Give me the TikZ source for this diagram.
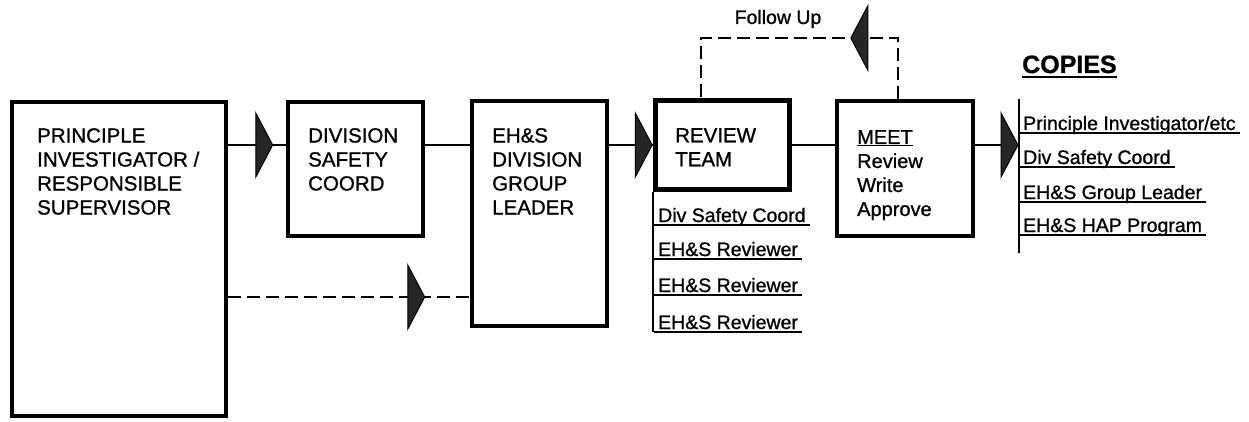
\documentclass[tikz,border=0pt]{standalone}
\usepackage{fontspec}
\setmainfont{Liberation Sans}[FakeBold=1]
\usetikzlibrary{arrows.meta, positioning, decorations.markings}

\tikzset{
  stage/.style={draw, line width=3.5pt, inner sep=0pt},
  stagetxt/.style={anchor=north west, inner sep=0pt, align=left,
                   font=\fontsize{20.5}{24}\selectfont},
  listtxt/.style={anchor=base west, inner xsep=4pt, inner ysep=0pt,
                  font=\fontsize{19.5}{23}\selectfont},
  link/.style={line width=2pt},
  dashlink/.style={line width=2.6pt, dash pattern=on 13pt off 6pt},
  uline/.style={line width=2pt},
  wedgeat/.style={postaction={decorate}, decoration={markings,
      mark=at position #1 with {\arrow{Triangle[length=18pt,width=68pt,
        fill=black!85,line width=1pt]}}}}
}

\begin{document}
\begin{tikzpicture}[x=1pt,y=-1pt]
  \useasboundingbox (0,0) rectangle (1249,422);

  % stages of the review
  \node[stage, minimum width=214pt, minimum height=314pt] (pi) at (119,259) {};
  \node[stage, minimum width=135pt, minimum height=134pt] (div) at (355.5,169) {};
  \node[stage, minimum width=135pt, minimum height=225pt] (ehs) at (539.5,213.5) {};
  \node[stage, line width=4.5pt, minimum width=134pt, minimum height=89pt] (review) at (722.5,145) {};
  \node[stage, minimum width=136pt, minimum height=135pt] (meet) at (905,168.5) {};

  \node[stagetxt] (pitxt) at (37,128) {PRINCIPLE\\INVESTIGATOR /\\RESPONSIBLE\\SUPERVISOR};
  \node[stagetxt] (divtxt) at (308,128) {DIVISION\\SAFETY\\COORD};
  \node[stagetxt] (ehstxt) at (492,128) {EH\&S\\DIVISION\\GROUP\\LEADER};
  \node[stagetxt] (revtxt) at (675,128) {REVIEW\\TEAM};
  \node[stagetxt, font=\fontsize{20}{24}\selectfont] (meettxt) at (857,130)
    {\underline{MEET}\\Review\\Write\\Approve};

  % main flow
  \draw[link, wedgeat=-13pt] (pi.east |- review) -- (div.west |- review);
  \draw[link] (div.east |- review) -- (ehs.west |- review);
  \draw[link, wedgeat=-0.5pt] (ehs.east |- review) -- (review.west);
  \draw[link] (review.east) -- (meet.west |- review);

  % direct copy to EH&S
  \coordinate (lowlink) at (440,297);
  \draw[dashlink, wedgeat=-45pt] (pi.east |- lowlink) -- (ehs.west |- lowlink);

  % follow up loop
  \coordinate (fuleft) at (701,38);
  \coordinate (furight) at (898,38);
  \draw[dashlink, wedgeat=109pt] (furight |- meet.north) -- (furight)
    -- (fuleft) -- (fuleft |- review.north);
  \node[font=\fontsize{19.5}{22}\selectfont, anchor=base] (fulabel) at (778,24) {Follow Up};

  % review team members
  \coordinate (rvbot) at (654,332);
  \draw[link] (review.south west) -- (review.south west |- rvbot);
  \node[listtxt] (rv1) at (654,222) {Div Safety Coord};
  \node[listtxt] (rv2) at (654,256) {EH\&S Reviewer};
  \node[listtxt] (rv3) at (654,292) {EH\&S Reviewer};
  \node[listtxt] (rv4) at (654,329) {EH\&S Reviewer};
  \foreach \n in {rv1,rv2,rv3,rv4}
    \draw[uline] ([yshift=-3pt]\n.base west) -- ([yshift=-3pt]\n.base east);

  % copies
  \coordinate (cptop) at (1019,99);
  \coordinate (cpbot) at (1019,253);
  \draw[line width=2.6pt] (cptop) -- (cpbot);
  \draw[link, wedgeat=-0.5pt] (meet.east |- review) -- (cptop |- review);
  \node[font=\bfseries\fontsize{25}{28}\selectfont, anchor=base west, inner sep=0pt]
    (copies) at (1022,73) {COPIES};
  \draw[uline] ([yshift=-4pt]copies.base west) -- ([yshift=-4pt]copies.base east);
  \node[listtxt] (cp1) at (1019,130) {Principle Investigator/etc};
  \node[listtxt] (cp2) at (1019,164) {Div Safety Coord};
  \node[listtxt] (cp3) at (1019,199) {EH\&S Group Leader};
  \node[listtxt] (cp4) at (1019,232) {EH\&S HAP Program};
  \foreach \n in {cp1,cp2,cp3,cp4}
    \draw[uline] ([yshift=-3pt]\n.base west) -- ([yshift=-3pt]\n.base east);
\end{tikzpicture}
\end{document}
